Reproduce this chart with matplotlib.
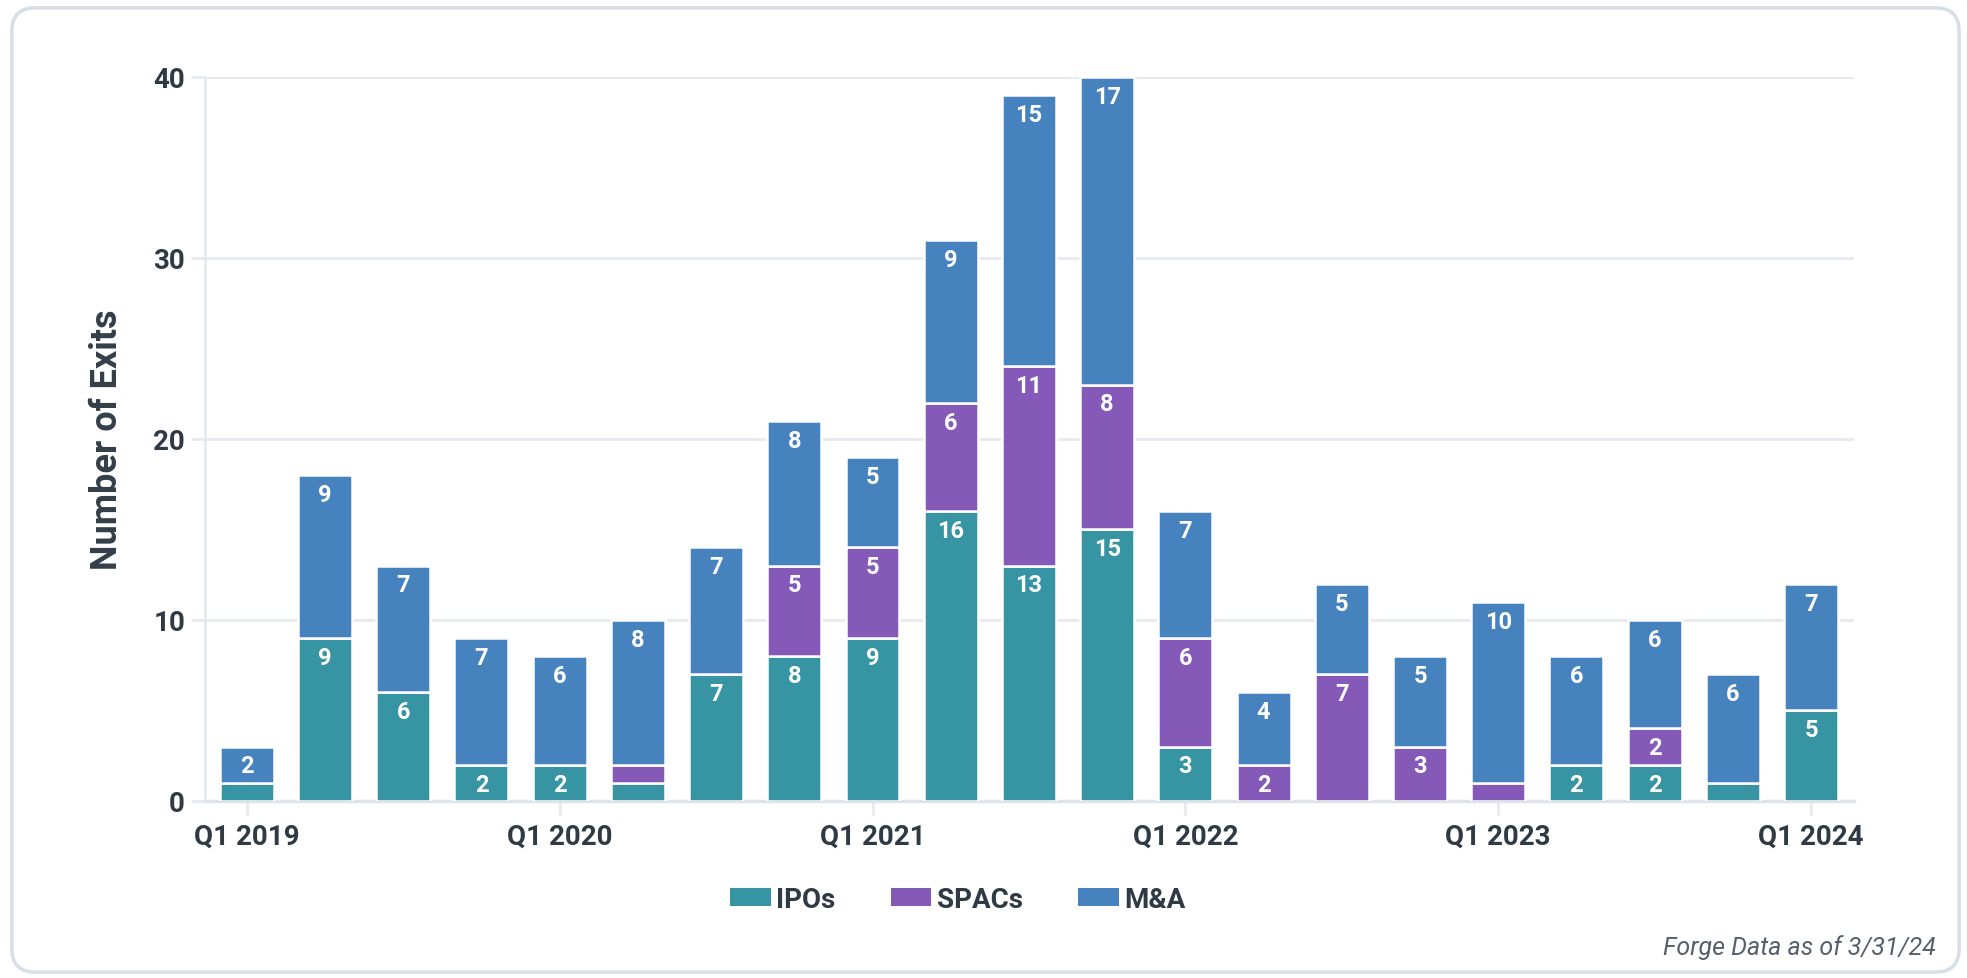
import numpy as np
import matplotlib.pyplot as plt
from matplotlib.patches import FancyBboxPatch

plt.rcParams['font.family'] = ['Roboto', 'DejaVu Sans']

# quarters Q1 2019 .. Q1 2024
quarters = ['Q1 2019', 'Q2 2019', 'Q3 2019', 'Q4 2019',
            'Q1 2020', 'Q2 2020', 'Q3 2020', 'Q4 2020',
            'Q1 2021', 'Q2 2021', 'Q3 2021', 'Q4 2021',
            'Q1 2022', 'Q2 2022', 'Q3 2022', 'Q4 2022',
            'Q1 2023', 'Q2 2023', 'Q3 2023', 'Q4 2023',
            'Q1 2024']
ipos  = [1, 9, 6, 2, 2, 1, 7, 8, 9, 16, 13, 15, 3, 0, 0, 0, 0, 2, 2, 1, 5]
spacs = [0, 0, 0, 0, 0, 1, 0, 5, 5, 6, 11, 8, 6, 2, 7, 3, 1, 0, 2, 0, 0]
manda = [2, 9, 7, 7, 6, 8, 7, 8, 5, 9, 15, 17, 7, 4, 5, 5, 10, 6, 6, 6, 7]

series = [('IPOs', ipos, '#3795a3'),
          ('SPACs', spacs, '#8459b8'),
          ('M&A', manda, '#4582be')]

dark = '#2f3a44'
grid = '#e6e9ee'

fig = plt.figure(figsize=(19.67, 9.79), dpi=100)
ax = fig.add_axes([0.104, 0.181, 0.8386, 0.7395])

x = np.arange(len(quarters))
bottom = np.zeros(len(quarters))
for name, vals, col in series:
    vals = np.array(vals)
    ax.bar(x, vals, width=0.69, bottom=bottom, color=col, edgecolor='white',
           linewidth=1.8, label=name, zorder=3)
    for xi, b, v in zip(x, bottom, vals):
        if v >= 2:
            ax.annotate(str(v), (xi, b + v), xytext=(0, -14), textcoords='offset points',
                        ha='center', va='center', color='white', fontsize=17,
                        fontweight='bold', zorder=4)
    bottom += vals

ax.set_xlim(-0.54, 20.55)
ax.set_ylim(0, 40)
ax.set_yticks([0, 10, 20, 30, 40])
ax.yaxis.grid(True, color=grid, linewidth=2, zorder=0)
ax.set_axisbelow(True)
for s in ['top', 'right']:
    ax.spines[s].set_visible(False)
ax.spines['left'].set_color(grid)
ax.spines['left'].set_linewidth(2)
ax.spines['bottom'].set_color('#e0e3e8')
ax.spines['bottom'].set_linewidth(2.5)

q1 = list(range(0, len(quarters), 4))
ax.set_xticks(q1)
ax.set_xticklabels([quarters[i] for i in q1])
ax.tick_params(axis='x', length=10, width=2, color=grid, labelsize=20, labelcolor=dark, pad=6)
ax.tick_params(axis='y', length=10, width=2, color=grid, labelsize=20, labelcolor=dark, pad=4)
for lab in ax.get_xticklabels() + ax.get_yticklabels():
    lab.set_fontweight('bold')

ax.set_ylabel('Number of Exits', fontsize=26, fontweight='bold', color='#333e48', labelpad=20)

leg = fig.legend(loc='center', bbox_to_anchor=(0.487, 0.08), ncol=3, frameon=False,
                 fontsize=20, handlelength=1.45, handleheight=0.62, columnspacing=2.0,
                 handletextpad=0.2)
for t in leg.get_texts():
    t.set_color(dark)
    t.set_fontweight('bold')
for p in leg.get_patches():
    p.set_edgecolor('none')

fig.text(0.984, 0.032, 'Forge Data as of 3/31/24', ha='right', va='center',
         fontsize=18, style='italic', color='#56606b')

border = FancyBboxPatch((0.006, 0.006), 0.99, 0.985, boxstyle='round,pad=0,rounding_size=0.012',
                        transform=fig.transFigure, facecolor='none', edgecolor='#d6dee7',
                        linewidth=2.5, mutation_aspect=1967 / 979)
fig.patches.append(border)

fig.savefig('out.png', dpi=100, facecolor='white')
